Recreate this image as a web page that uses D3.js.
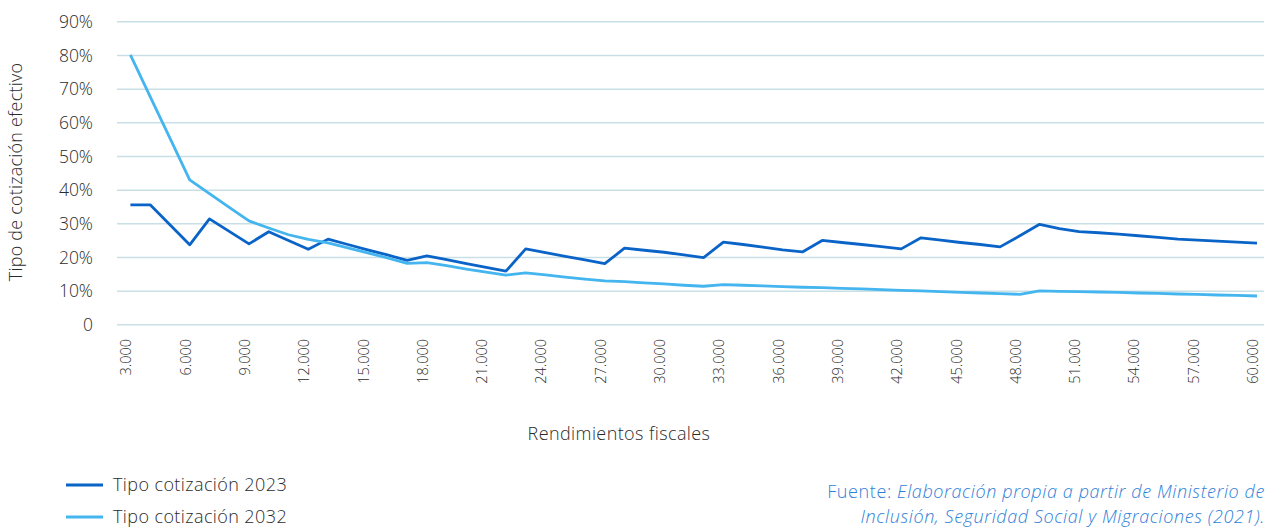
<!DOCTYPE html>
<html>
<head>
<meta charset="utf-8">
<script src="https://cdn.jsdelivr.net/npm/d3@7"></script>
<style>
  html, body { margin: 0; padding: 0; background: #fff; }
  svg { display: block; }
  text { font-family: "Open Sans", "Liberation Sans", Arial, sans-serif; font-weight: 300; fill: #2b2b2b; }
</style>
</head>
<body>
<svg id="chart" width="1266" height="527"></svg>
<script>
// ---- Data ----
const categories = d3.range(3000, 60001, 1000);

const tipo2023 = [
  35.5, 35.5, 29.6, 23.6, 31.3, 27.6, 23.9, 27.5, 24.9, 22.3,
  25.3, 23.7, 22.1, 20.6, 19.0, 20.3, 19.2, 18.0, 16.9, 15.8,
  22.4, 21.3, 20.2, 19.1, 18.0, 22.6, 22.0, 21.4, 20.6, 19.8,
  24.4, 23.7, 22.9, 22.1, 21.5, 24.9, 24.3, 23.7, 23.1, 22.4,
  25.7, 25.0, 24.3, 23.7, 23.0, 26.3, 29.7, 28.4, 27.5, 27.2,
  26.8, 26.3, 25.8, 25.3, 25.0, 24.7, 24.4, 24.1
];

const tipo2032 = [
  80.0, 67.6, 55.3, 42.9, 38.8, 34.7, 30.7, 28.6, 26.6, 25.2,
  24.2, 22.7, 21.2, 19.7, 18.1, 18.3, 17.4, 16.4, 15.5, 14.6,
  15.3, 14.7, 14.0, 13.4, 12.9, 12.7, 12.3, 12.0, 11.6, 11.3,
  11.8, 11.6, 11.4, 11.2, 11.0, 10.9, 10.7, 10.5, 10.3, 10.1,
  9.9, 9.7, 9.5, 9.3, 9.1, 8.9, 9.9, 9.8, 9.7, 9.6,
  9.5, 9.3, 9.2, 9.0, 8.9, 8.7, 8.6, 8.4
];

const yTicks = [0, 10, 20, 30, 40, 50, 60, 70, 80, 90];
const xTickValues = d3.range(3000, 60001, 3000);

const seriesNames = ["Tipo cotización 2023", "Tipo cotización 2032"];
const seriesColors = ["#0A64C8", "#44B5EE"];

// ---- Layout ----
const FONT = '"Open Sans", "Liberation Sans", Arial, sans-serif';
const svg = d3.select("#chart");
const plotLeft = 117, plotRight = 1264;
const x = d3.scalePoint().domain(categories).range([130.4, 1257]);
const y = d3.scaleLinear().domain([0, 90]).range([324.3, 21.3]);

const fmtThousands = d => d3.format(",")(d).replace(/,/g, ".");

// gridlines + y labels
const yAxis = d3.axisLeft(y).tickValues(yTicks).tickSize(-(plotRight - plotLeft)).tickPadding(24)
  .tickFormat(d => d === 0 ? "0" : d + "%");
const gy = svg.append("g").attr("transform", `translate(${plotLeft},0)`).call(yAxis);
gy.select(".domain").remove();
gy.selectAll(".tick line").attr("stroke", "#C9DFE6").attr("stroke-width", 1.5);
gy.selectAll(".tick text").attr("font-size", 17.5).attr("fill", "#2b2b2b")
  .attr("font-family", FONT).attr("font-weight", 300)
  .attr("dy", "0.36em");

// x axis labels (rotated)
const xAxis = d3.axisBottom(x).tickValues(xTickValues).tickSize(0).tickFormat(fmtThousands);
const gx = svg.append("g").attr("transform", "translate(0.5,339)").call(xAxis);
gx.select(".domain").remove();
gx.selectAll(".tick text")
  .attr("font-size", 14.5).attr("fill", "#2b2b2b")
  .attr("font-family", FONT).attr("font-weight", 300)
  .attr("transform", "rotate(-90)")
  .attr("text-anchor", "end")
  .attr("x", 0).attr("y", 0).attr("dy", "0").attr("dx", "0");

// lines
const line = d3.line().x((d, i) => x(categories[i])).y(d => y(d));
[tipo2023, tipo2032].forEach((s, k) => {
  svg.append("path").datum(s)
    .attr("fill", "none")
    .attr("stroke", seriesColors[k])
    .attr("stroke-width", 2.8)
    .attr("stroke-linejoin", "round")
    .attr("d", line);
});

// axis titles
svg.append("text")
  .attr("transform", "translate(22,172) rotate(-90)")
  .attr("text-anchor", "middle")
  .attr("font-size", 18).attr("letter-spacing", 0.2)
  .text("Tipo de cotización efectivo");

svg.append("text")
  .attr("x", 619).attr("y", 440)
  .attr("text-anchor", "middle")
  .attr("font-size", 18).attr("letter-spacing", 0.4)
  .text("Rendimientos fiscales");

// legend
const legY = [485, 517];
seriesNames.forEach((n, k) => {
  svg.append("line")
    .attr("x1", 66).attr("x2", 103).attr("y1", legY[k]).attr("y2", legY[k])
    .attr("stroke", seriesColors[k]).attr("stroke-width", 2.8);
  svg.append("text")
    .attr("x", 113).attr("y", legY[k]).attr("dy", "0.34em")
    .attr("font-size", 18).attr("letter-spacing", 0.4)
    .text(n);
});

// source
const src = svg.append("text").attr("text-anchor", "end").attr("font-size", 18).attr("letter-spacing", 0.6);
const l1 = src.append("tspan").attr("x", 1265).attr("y", 498);
l1.append("tspan").attr("fill", "#2F7FD8").text("Fuente: ");
l1.append("tspan").attr("fill", "#2F7FD8").attr("font-style", "italic").text("Elaboración propia a partir de Ministerio de");
src.append("tspan").attr("x", 1265).attr("y", 523).attr("fill", "#2F7FD8").attr("font-style", "italic")
  .text("Inclusión, Seguridad Social y Migraciones (2021).");
</script>
</body>
</html>
